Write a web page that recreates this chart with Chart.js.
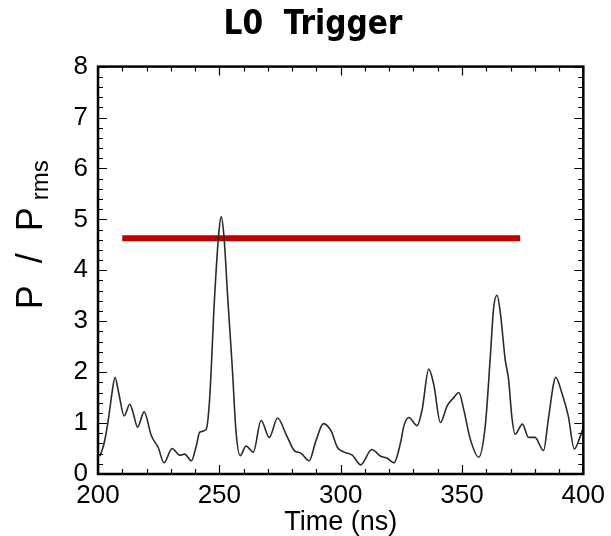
<!DOCTYPE html>
<html><head><meta charset="utf-8">
<script src="https://cdn.jsdelivr.net/npm/chart.js@4"></script>
<style>html,body{margin:0;padding:0;background:#fff;}#wrap{width:611px;height:536px;}</style>
</head><body><div id="wrap"><canvas id="c" width="611" height="536"></canvas></div>
<script>
const chartTitle = 'L0  Trigger';
const xAxisTitle = 'Time (ns)';
const yTitleParts = ['P', '/', 'P'];
const yTitleSub = 'rms';

const timeNs = [200.8,202.5,204.2,205.8,207,208.5,210.8,213.1,214.5,216.3,219,222,224.8,227.2,230.5,233.7,235.7,238.5,240.5,241.9,244.6,246,248,249.8,250.8,251.9,253.5,255.3,256.9,258.6,261,264,267.2,270.6,274,277.5,280.9,283.6,287,289.8,292.9,296,298.7,301.4,304.8,308.3,312.8,316.5,319.2,322,324.7,326.1,328.1,331.5,333.6,336.3,338.4,341.1,343.9,346.6,348.7,350.7,353.4,356.9,359.6,361.7,363,364.4,365.8,367.8,369.2,370.6,371.9,374.9,377.4,380.1,383.6,385.6,387.7,388.6,391.1,393.8,396.3,398.6,400];
const powerRatio = [0.35,0.6,1.05,1.6,1.9,1.6,1.14,1.37,1.2,0.92,1.22,0.75,0.52,0.22,0.5,0.37,0.39,0.26,0.55,0.82,0.88,1.47,3.43,4.74,5.05,4.67,3.43,2.12,0.82,0.36,0.55,0.43,1.05,0.72,1.1,0.78,0.46,0.41,0.26,0.65,0.99,0.85,0.52,0.43,0.37,0.18,0.48,0.35,0.31,0.22,0.62,0.95,1.11,0.95,1.27,2.06,1.75,1.01,1.34,1.5,1.6,1.27,0.69,0.33,0.95,2.32,3.24,3.51,3.17,2.25,1.86,1.1,0.78,0.98,0.72,0.72,0.46,1.08,1.76,1.9,1.6,1.14,0.49,0.72,0.92];

const thresholdTimes = [210, 374];
const thresholdLevel = [4.63, 4.63];

const xRange = [200, 400];
const yRange = [0, 8];
const xMajorStep = 50, xMinorStep = 10;
const yMajorStep = 1, yMinorStep = 0.2;

const sansFamily = "'Liberation Sans', Arial, Helvetica, sans-serif";
const tickFont = {family: sansFamily, size: 26};

const framePlugin = {
  id: 'frame',
  afterDraw(chart) {
    const {ctx, chartArea: a, scales: {x, y}} = chart;
    ctx.save();
    ctx.strokeStyle = '#000';
    ctx.lineWidth = 1.2;
    ctx.beginPath();
    const nx = Math.round((xRange[1] - xRange[0]) / xMinorStep);
    for (let i = 0; i <= nx; i++) {
      const v = xRange[0] + i * xMinorStep;
      const px = Math.round(x.getPixelForValue(v)) + 0.5;
      const len = (i % Math.round(xMajorStep / xMinorStep) === 0) ? 9 : 5;
      ctx.moveTo(px, a.bottom); ctx.lineTo(px, a.bottom - len);
      ctx.moveTo(px, a.top); ctx.lineTo(px, a.top + len);
    }
    const ny = Math.round((yRange[1] - yRange[0]) / yMinorStep);
    for (let i = 0; i <= ny; i++) {
      const v = yRange[0] + i * yMinorStep;
      const py = Math.round(y.getPixelForValue(v)) + 0.5;
      const len = (i % Math.round(yMajorStep / yMinorStep) === 0) ? 9 : 5;
      ctx.moveTo(a.left, py); ctx.lineTo(a.left + len, py);
      ctx.moveTo(a.right, py); ctx.lineTo(a.right - len, py);
    }
    ctx.stroke();
    ctx.lineWidth = 2.5;
    ctx.strokeRect(a.left, a.top, a.right - a.left, a.bottom - a.top);
    // y-axis title with subscript, drawn rotated
    const cy = (a.top + a.bottom) / 2;
    ctx.fillStyle = '#000';
    ctx.translate(42, cy + 42);
    ctx.rotate(-Math.PI / 2);
    ctx.textBaseline = 'alphabetic';
    ctx.textAlign = 'center';
    ctx.font = "36px " + sansFamily;
    const offsets = [15, 54, 93];
    yTitleParts.forEach((p, i) => ctx.fillText(p, offsets[i], 0));
    ctx.textAlign = 'left';
    ctx.font = "24px " + sansFamily;
    ctx.fillText(yTitleSub, 112, 6);
    ctx.restore();
  }
};

new Chart(document.getElementById('c'), {
  type: 'line',
  data: {
    datasets: [
      {
        label: 'P / Prms',
        data: timeNs.map((t, i) => ({x: t, y: powerRatio[i]})),
        borderColor: '#2a2a2a',
        borderWidth: 1.6,
        pointRadius: 0,
        tension: 0.4,
        cubicInterpolationMode: 'monotone',
        fill: false
      },
      {
        label: 'Threshold',
        data: thresholdTimes.map((t, i) => ({x: t, y: thresholdLevel[i]})),
        borderColor: '#c00000',
        borderWidth: 6,
        pointRadius: 0,
        borderCapStyle: 'butt',
        fill: false
      }
    ]
  },
  options: {
    responsive: false,
    animation: false,
    devicePixelRatio: 1,
    layout: {padding: {left: 40, right: 25, top: 0, bottom: 0}},
    plugins: {
      legend: {display: false},
      tooltip: {enabled: false},
      title: {
        display: true,
        text: chartTitle,
        color: '#000',
        font: {family: "'DejaVu Sans Condensed', 'DejaVu Sans', sans-serif", size: 33, weight: 'bold', lineHeight: 1.2},
        padding: {top: 6, bottom: 21}
      }
    },
    scales: {
      x: {
        type: 'linear',
        min: xRange[0], max: xRange[1],
        grid: {display: false, drawTicks: false},
        border: {display: false},
        ticks: {stepSize: xMajorStep, color: '#000', font: tickFont, padding: 6, maxRotation: 0},
        title: {display: true, text: xAxisTitle, color: '#000', font: {family: sansFamily, size: 27}, padding: {top: 0, bottom: -3}},
        afterFit(s) { s.height = 62; }
      },
      y: {
        min: yRange[0], max: yRange[1],
        grid: {display: false, drawTicks: false},
        border: {display: false},
        ticks: {stepSize: yMajorStep, color: '#000', font: tickFont, padding: 10},
        afterFit(s) { s.width = 58; }
      }
    }
  },
  plugins: [framePlugin]
});
</script>
</body></html>
